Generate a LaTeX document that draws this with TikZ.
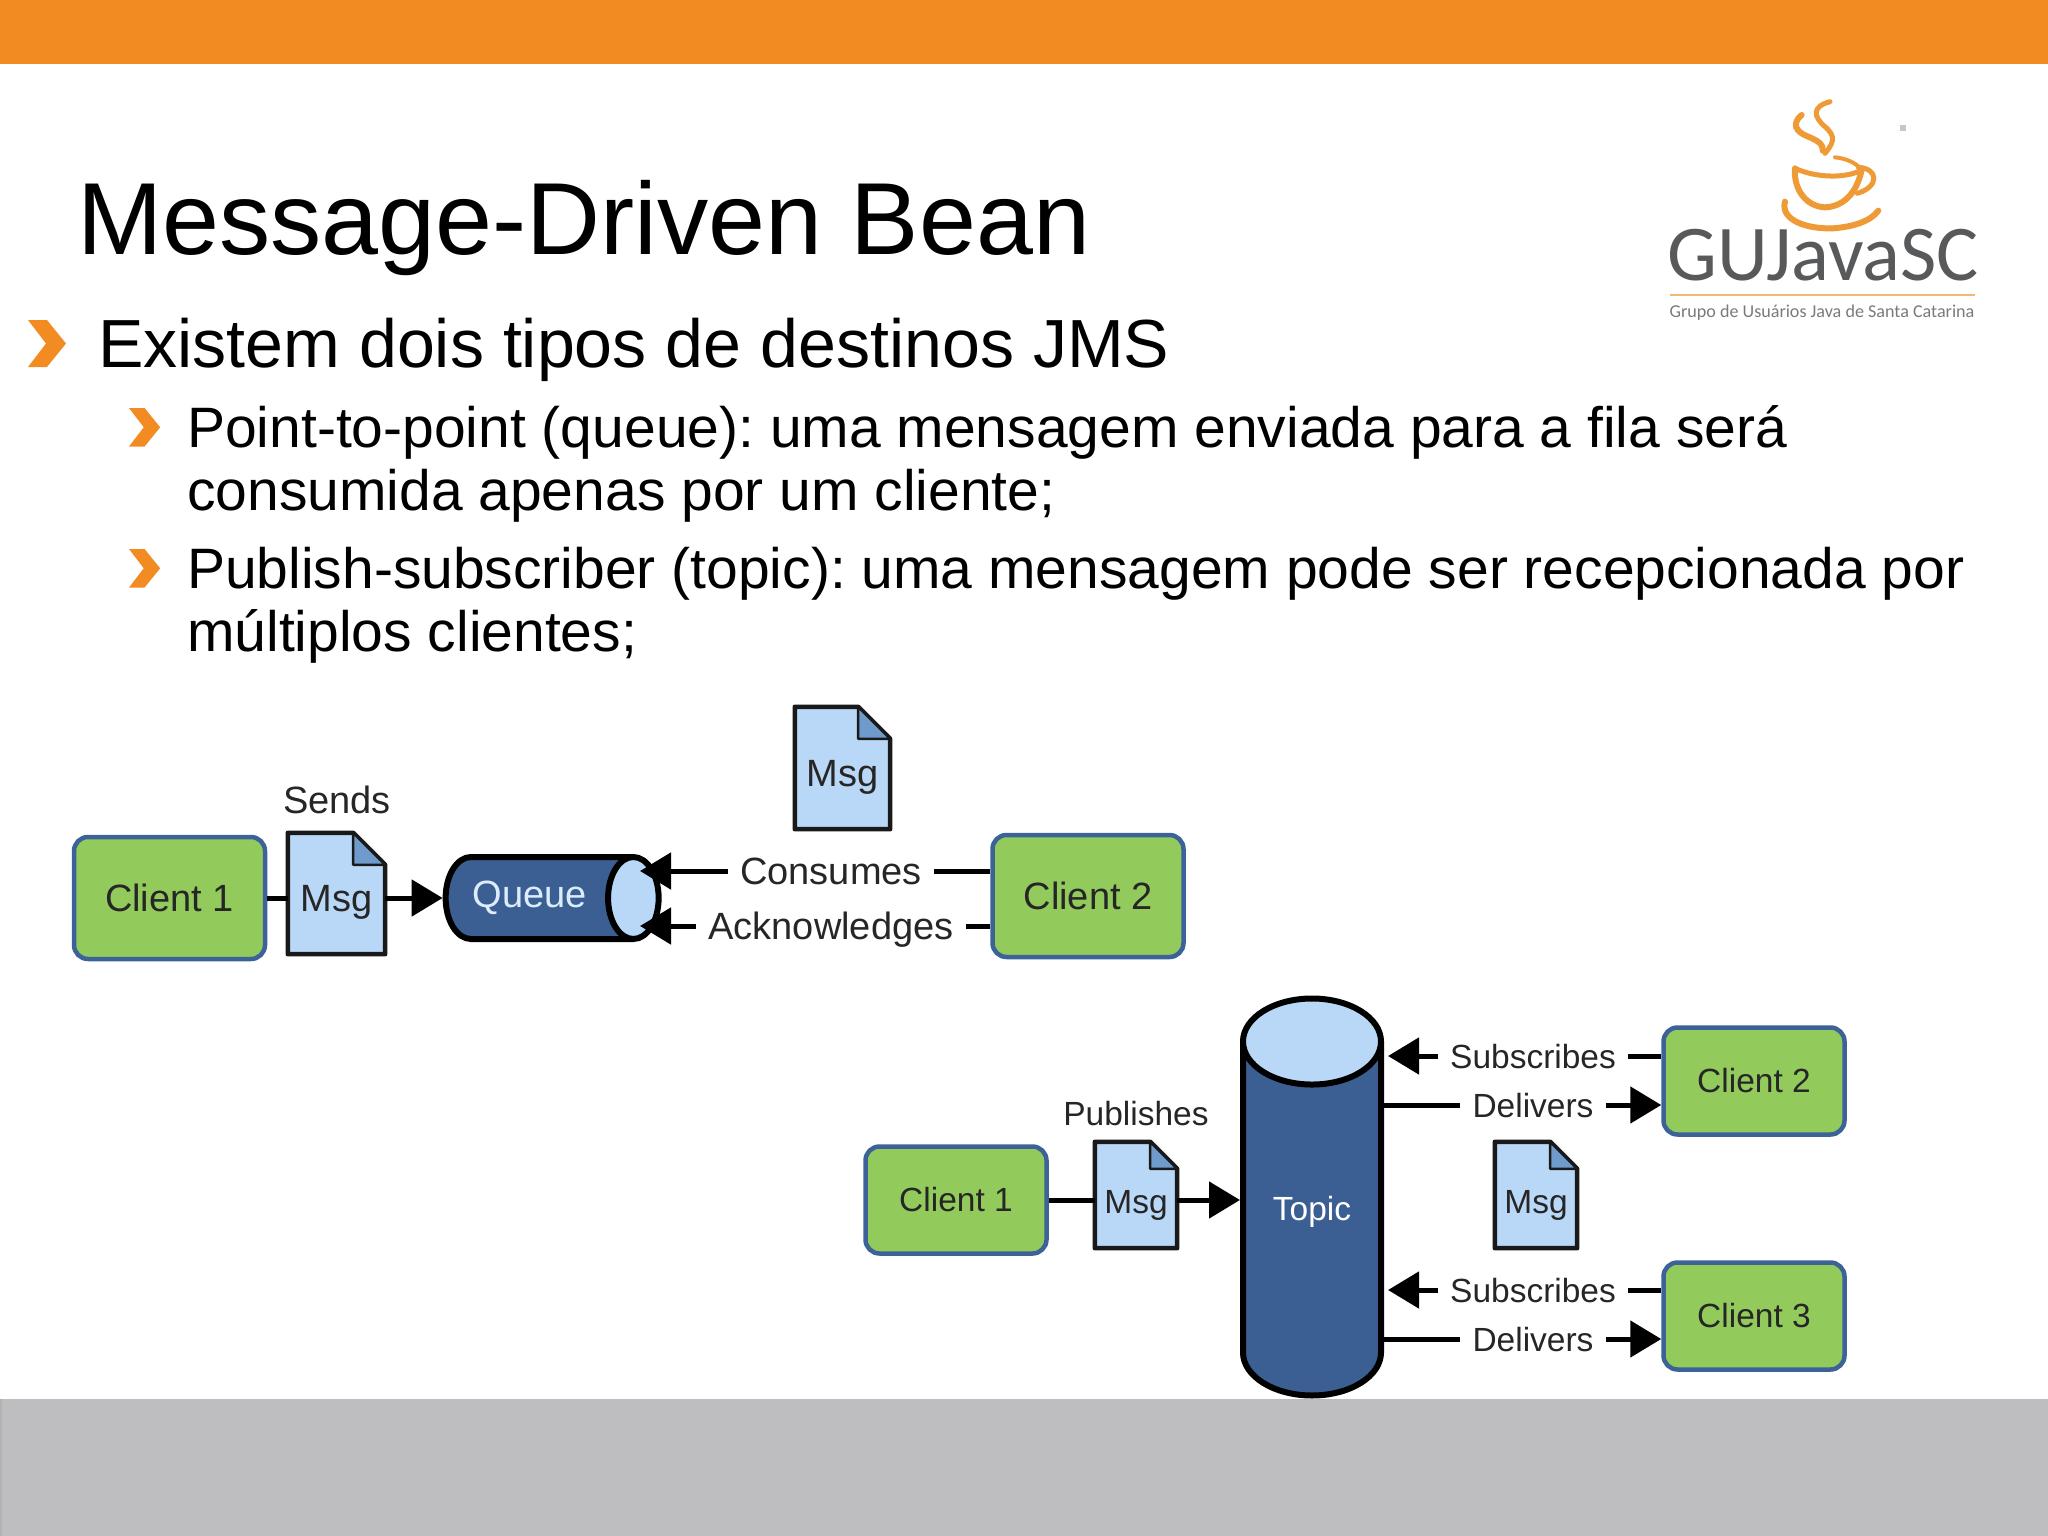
\documentclass[tikz,border=0pt]{standalone}
\usepackage{fontspec}
\setmainfont{Liberation Sans}
\newfontfamily\logofont{Carlito}
\usetikzlibrary{arrows.meta,shapes.geometric,calc}
\pgfdeclarelayer{background}
\pgfsetlayers{background,main}
\definecolor{bandorange}{HTML}{F28C22}
\definecolor{bandgray}{HTML}{BEBDBF}
\definecolor{clientgreen}{HTML}{92CB5C}
\definecolor{clientblue}{HTML}{3C6298}
\definecolor{msgblue}{HTML}{B9D8F7}
\definecolor{foldblue}{HTML}{6E9BCB}
\definecolor{tubeblue}{HTML}{3B5E93}
\definecolor{logogray}{HTML}{58595B}
\definecolor{cuporange}{HTML}{EE9A36}
\tikzstyle{client}=[rectangle,rounded corners=14pt,draw=clientblue,fill=clientgreen,line width=4.5pt,inner sep=0pt,text=black!85]
\tikzstyle{msg}=[rectangle,inner sep=0pt,text=black!85,text height=36pt,text depth=0pt]
\tikzstyle{msgline}=[draw=black!90,fill=msgblue,line width=4.5pt,line join=round]
\tikzstyle{tube}=[cylinder,shape aspect=1.1,cylinder uses custom fill,cylinder body fill=tubeblue,cylinder end fill=msgblue,draw=black,line width=6pt,inner sep=0pt,text=white]
\tikzstyle{conlabel}=[inner sep=0pt,inner xsep=12pt,text depth=0pt,text=black!85]
\tikzstyle{edge}=[draw,line width=5pt,-]
\tikzstyle{arrowedge}=[draw,line width=5pt,-{Triangle[length=31pt,width=36pt]}]
\tikzstyle{bullet}=[fill=bandorange]
\newcommand{\upperdiag}{\fontsize{38}{38}\selectfont}
\newcommand{\lowerdiag}{\fontsize{33.5}{33.5}\selectfont}
\begin{document}
\frenchspacing
\begin{tikzpicture}[x=1pt,y=-1pt]
    \useasboundingbox (0,0) rectangle (2048,1536);
    % Slide bands
    \fill[bandorange] (0,0) rectangle (2048,64);
    \fill[bandgray] (0,1399) rectangle (2048,1536);
    \draw[gray!60,line width=1.5pt] (1,1399) -- (1,1536);

    % Slide text
    \node[anchor=base west,inner sep=0pt] (Title) at (77,254) {\fontsize{102.4}{102.4}\selectfont Message-Driven Bean};
    \node[anchor=base west,inner sep=0pt] (LineA) at (98,367) {\fontsize{68.1}{68.1}\selectfont Existem dois tipos de destinos JMS};
    \foreach \pos/\name/\text in {{(187,447)/LineB/Point-to-point (queue): uma mensagem enviada para a fila será},
        {(187,510)/LineC/consumida apenas por um cliente;},
        {(187,588)/LineD/Publish-subscriber (topic): uma mensagem pode ser recepcionada por},
        {(187,651)/LineE/múltiplos clientes;}}
        \node[anchor=base west,inner sep=0pt] (\name) at \pos {\fontsize{57}{57}\selectfont \text};

    % Bullets
    \foreach \pos/\s in {{(28,320)/1}, {(129,408)/.82}, {(129,549)/.82}}
        \fill[bullet,shift={\pos},scale=\s] (0,0) -- (19,0) -- (38,23.5) -- (19,47) -- (0,47) -- (18,23.5) -- cycle;

    % Logo
    \begin{scope}[shift={(1620,80)},x=.3333pt,y=-.3333pt,draw=cuporange,line cap=round,line width=5pt]
        \draw (630,65) .. controls (575,80) and (580,110) .. (615,140) .. controls (650,170) and (640,190) .. (615,220);
        \draw[line width=6pt] (545,105) .. controls (515,130) and (525,155) .. (565,170) .. controls (600,185) and (610,195) .. (608,212);
        \draw (525,265) .. controls (590,295) and (680,295) .. (725,270);
        \draw[line width=4pt] (645,232) .. controls (680,235) and (710,250) .. (725,270);
        \draw[line width=6pt] (525,265) .. controls (520,330) and (560,380) .. (615,382) .. controls (670,380) and (710,340) .. (725,270);
        \draw (715,262) .. controls (775,265) and (780,320) .. (712,340);
        \draw[line width=6pt] (495,365) .. controls (480,420) and (560,448) .. (640,445) .. controls (700,440) and (750,425) .. (775,392);
    \end{scope}
    \node[font=\logofont\fontsize{79}{79}\selectfont,text=logogray,anchor=base,inner sep=0pt] (LogoName) at (1823,280) {GUJavaSC};
    \draw[cuporange!70,line width=2.5pt] (1670,295) -- (1975,295);
    \node[font=\logofont\fontsize{18.1}{18.1}\selectfont,text=logogray!80,anchor=base,inner sep=0pt] (LogoText) at (1822,317) {Grupo de Usuários Java de Santa Catarina};
    \fill[gray!45] (1900,125) rectangle (1906,131);

    % First we draw the clients
    \foreach \pos/\name/\text in {{(169.5,898)/ClientA/Client 1}, {(1088,896)/ClientB/Client 2}}
        \node[client,minimum width=191pt,minimum height=122pt,font=\upperdiag] (\name) at \pos {\text};
    \foreach \pos/\name/\text in {{(956,1200)/ClientC/Client 1}, {(1754,1081)/ClientD/Client 2}, {(1754,1316)/ClientE/Client 3}}
        \node[client,minimum width=181pt,minimum height=107pt,font=\lowerdiag] (\name) at \pos {\text};

    % Then the messages
    \foreach \pos/\name/\wid/\hei/\size in {{(336.5,893.5)/MsgA/97/121/\upperdiag}, {(842.5,768)/MsgB/95/122/\upperdiag}, {(1136,1195)/MsgC/82/106/\lowerdiag}, {(1536,1195)/MsgD/82/106/\lowerdiag}}
        \node[msg,minimum width=\wid pt,minimum height=\hei pt,font=\size] (\name) at \pos {Msg};
    \begin{pgfonlayer}{background}
    \foreach \name/\fold in {MsgA/32, MsgB/32, MsgC/27, MsgD/27} {
        \path[msgline] (\name.south west) -- (\name.north west) -- ($(\name.north east)+(-\fold,0)$) -- ($(\name.north east)+(0,\fold)$) -- (\name.south east) -- cycle;
        \path[msgline,fill=foldblue,line width=2.5pt] ($(\name.north east)+(-\fold,0)$) -- ($(\name.north east)+(-\fold,\fold)$) -- ($(\name.north east)+(0,\fold)$) -- cycle;
    }
    \end{pgfonlayer}

    % The queue and the topic
    \node[tube,shape aspect=1.5,minimum width=82pt,minimum height=213pt,font=\upperdiag,text=msgblue!50!white] (Queue) at (538,898) {Queue\hspace*{17pt}};
    \node[tube,shape border rotate=90,minimum width=138pt,minimum height=397pt,font=\lowerdiag,text height=8pt,text depth=8pt] (Topic) at (1312,1220) {Topic};
    \coordinate (QueueEnd) at (640,897);

    % Labels on the connectors
    \node[font=\upperdiag,inner sep=0pt,text=black!85] (Sends) at (337,800) {Sends};
    \node[font=\lowerdiag,inner sep=0pt,text=black!85] (Publishes) at (1136,1114) {Publishes};
    \foreach \pos/\name/\text in {{(831,871)/Consumes/Consumes}, {(831,926)/Acknowledges/Acknowledges}}
        \node[conlabel,font=\upperdiag,text height=27pt] (\name) at \pos {\text};
    \foreach \pos/\name/\text in {{(1533,1056)/SubscribesA/Subscribes}, {(1533,1105)/DeliversA/Delivers}, {(1533,1290)/SubscribesB/Subscribes}, {(1533,1339)/DeliversB/Delivers}}
        \node[conlabel,font=\lowerdiag,text height=24pt] (\name) at \pos {\text};

    % Connect nodes with edges
    \foreach \source/\dest in {ClientA.east/MsgA.west, Consumes.east/ClientB.west, Acknowledges.east/ClientB.west,
        ClientC.east/MsgC.west, SubscribesA.east/ClientD.west, SubscribesB.east/ClientE.west,
        DeliversA.west/Topic.east, DeliversB.west/Topic.east}
        \path[edge] (\source) -- (\source -| \dest);
    \path[arrowedge] (MsgA.east |- ClientA.east) -- (Queue.west |- ClientA.east);
    \path[arrowedge] (MsgC.east |- ClientC.east) -- (Topic.west |- ClientC.east);
    \foreach \source/\dest in {Consumes.west/QueueEnd, Acknowledges.west/QueueEnd,
        DeliversA.east/ClientD.west, DeliversB.east/ClientE.west}
        \path[arrowedge] (\source) -- (\source -| \dest);
    \foreach \source/\dest in {SubscribesA.west/Topic.east, SubscribesB.west/Topic.east}
        \path[arrowedge,shorten >=4pt] (\source) -- (\source -| \dest);
\end{tikzpicture}
\end{document}
